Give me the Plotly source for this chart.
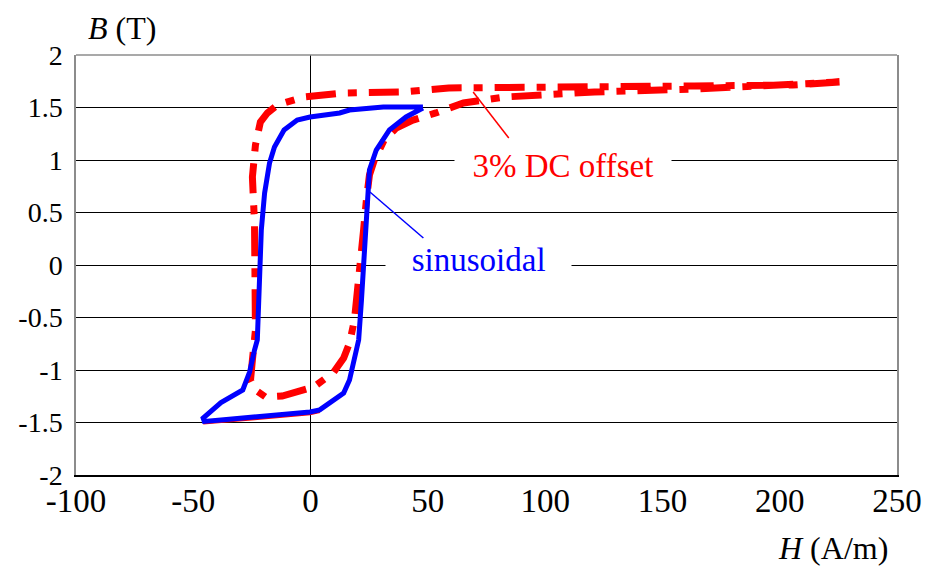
import plotly.graph_objects as go

# ---------------- data ----------------
# sinusoidal excitation loop (H in A/m, B in T)
blue_H = [47.9, 31.0, 16.6, 12.4, -0.25, -5.7, -11.3, -15.4, -17.5, -19.6, -21.0, -21.4, -21.9,
          -22.7, -23.9, -26.0, -28.9, -38.2, -45.8, -45.3, -38.2, -23.9, -0.25, 3.9, 14.1, 16.6,
          18.7, 20.5, 21.7, 22.6, 23.4, 24.2, 25.1, 28.0, 33.6, 40.7, 47.9]
blue_B = [1.505, 1.505, 1.476, 1.448, 1.41, 1.38, 1.286, 1.124, 0.971, 0.686, 0.333, 0.0, -0.333,
          -0.714, -0.81, -1.02, -1.19, -1.31, -1.457, -1.49, -1.476, -1.448, -1.40, -1.38, -1.22,
          -1.095, -0.876, -0.714, -0.333, 0.0, 0.333, 0.62, 0.905, 1.095, 1.286, 1.41, 1.495]

# 3% DC offset loop
red_H = [225.5, 205.5, 163.5, 121.0, 87.5, 58.9, 39.4, 14.1, -2.8, -10.0, -14.2, -18.4, -21.4,
         -23.5, -24.8, -23.9, -23.9, -23.9, -23.5, -24.8, -25.6, -23.5, -19.2, -12.1, -7.1, 1.4,
         9.9, 14.1, 16.6, 18.7, 20.0, 21.3, 22.6, 23.8, 25.1, 27.2, 31.4, 36.5, 43.6, 53.4, 65.2,
         82.9, 104.1, 121.0, 163.2, 205.5, 225.5]
red_B = [1.743, 1.714, 1.705, 1.695, 1.695, 1.686, 1.648, 1.638, 1.60, 1.552, 1.524, 1.448, 1.362,
         1.143, 0.838, 0.40, 0.076, -0.362, -0.62, -0.905, -1.095, -1.19, -1.257, -1.248, -1.21,
         -1.162, -1.019, -0.886, -0.743, -0.524, -0.238, 0.0, 0.333, 0.62, 0.857, 1.0, 1.19, 1.305,
         1.38, 1.448, 1.543, 1.60, 1.629, 1.648, 1.676, 1.714, 1.743]

# faint red trace visible under the lower part of the blue loop
red_low_H = [-45.8, -38.2, -23.9, -0.25, 3.9]
red_low_B = [-1.50, -1.488, -1.46, -1.412, -1.392]

x_ticks = [-100, -50, 0, 50, 100, 150, 200, 250]
x_ticktext = ["-100", "-50", "0", "50", "100", "150", "200", "250"]
y_ticks = [2, 1.5, 1, 0.5, 0, -0.5, -1, -1.5, -2]
y_ticktext = ["2", "1.5", "1", "0.5", "0", "-0.5", "-1", "-1.5", "-2"]

SERIF = "Liberation Serif"

fig = go.Figure()
fig.add_trace(go.Scatter(x=red_low_H, y=red_low_B, mode="lines",
                         line=dict(color="#FF0000", width=4), showlegend=False, hoverinfo="skip"))
fig.add_trace(go.Scatter(x=red_H, y=red_B, mode="lines", name="3% DC offset",
                         line=dict(color="#FF0000", width=7, dash="30px,12px,9px,12px"),
                         showlegend=False))
fig.add_trace(go.Scatter(x=blue_H, y=blue_B, mode="lines", name="sinusoidal",
                         line=dict(color="#0000FF", width=5), showlegend=False))

# leader lines
fig.add_shape(type="line", x0=69.3, y0=1.648, x1=84.5, y1=1.21,
              line=dict(color="#FF0000", width=1.5), layer="above")
fig.add_shape(type="line", x0=25.3, y0=0.695, x1=48.1, y1=0.257,
              line=dict(color="#0000FF", width=1.5), layer="above")
# grey top border
fig.add_shape(type="line", xref="paper", yref="paper", x0=0, x1=1, y0=1, y1=1,
              line=dict(color="#8c8c8c", width=1.5), layer="above")

nb = "\u00a0"
fig.add_annotation(x=107.7, y=0.94, text=nb * 2 + "3% DC offset" + nb * 2, showarrow=False,
                   xanchor="center", yanchor="middle",
                   font=dict(family=SERIF, size=33, color="#FF0000"),
                   bgcolor="white", borderpad=1)
fig.add_annotation(x=71.8, y=0.05, text=nb * 3 + "sinusoidal" + nb * 3, showarrow=False,
                   xanchor="center", yanchor="middle",
                   font=dict(family=SERIF, size=33, color="#0000FF"),
                   bgcolor="white", borderpad=1)

# axis titles
fig.add_annotation(xref="paper", yref="paper", x=0.0555, y=1.064,
                   xanchor="center", yanchor="middle",
                   text="<i>B</i> (T)", showarrow=False,
                   font=dict(family=SERIF, size=32, color="black"))
fig.add_annotation(xref="paper", yref="paper", x=0.9216, y=-0.174,
                   xanchor="center", yanchor="middle",
                   text="<i>H</i> (A/m)", showarrow=False,
                   font=dict(family=SERIF, size=32, color="black"))

fig.update_xaxes(range=[-100, 250], tickvals=x_ticks, ticktext=x_ticktext,
                 showgrid=False, zeroline=True, zerolinecolor="black", zerolinewidth=1.3,
                 showline=True, linecolor="black", linewidth=1.5, ticks="",
                 tickfont=dict(family=SERIF, size=33, color="black"),
                 ticklabelstandoff=-4, fixedrange=True)
fig.update_yaxes(range=[-2, 2], tickvals=y_ticks, ticktext=y_ticktext,
                 showgrid=True, gridcolor="black", gridwidth=1.3,
                 zeroline=True, zerolinecolor="black", zerolinewidth=1.3,
                 showline=True, linecolor="#8c8c8c", linewidth=1.5, mirror=True, ticks="",
                 tickfont=dict(family=SERIF, size=28, color="black"),
                 ticklabelstandoff=6, fixedrange=True)

fig.update_layout(width=934, height=567, margin=dict(l=76, r=29, t=55, b=92),
                  paper_bgcolor="white", plot_bgcolor="white", showlegend=False)

fig.write_html("out.html")
